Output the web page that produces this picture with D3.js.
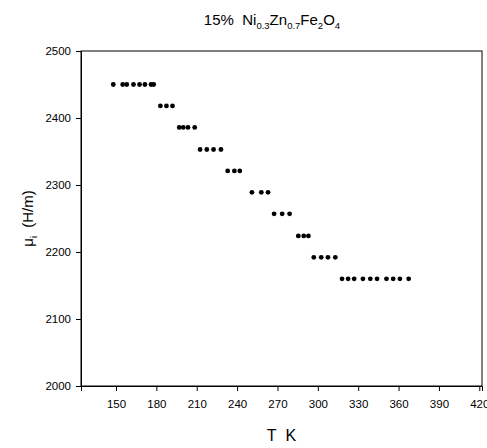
<!DOCTYPE html>
<html>
<head>
<meta charset="utf-8">
<script src="https://cdn.jsdelivr.net/npm/d3@7"></script>
<style>
  body { margin: 0; background: #fff; }
  svg { display: block; font-family: Arial, "Liberation Sans", sans-serif; }
</style>
</head>
<body>
<svg id="chart" width="487" height="448"></svg>
<script>
// Data (temperature in K, initial permeability in H/m)
const temperature = [
  148, 155, 158, 163, 167.5, 171.5, 176, 178,
  183, 187.5, 192,
  197, 200, 203.5, 208.5,
  212.5, 217.5, 222.5, 228,
  233, 238, 242,
  251, 258, 263,
  267.5, 273.5, 279,
  285.5, 289.5, 293,
  297, 302.5, 307.5, 313,
  318, 322.5, 327, 333.5, 339, 344, 351, 356, 361, 367.5
];
const permeability = [
  2450, 2450, 2450, 2450, 2450, 2450, 2450, 2450,
  2418, 2418, 2418,
  2386, 2386, 2386, 2386,
  2353, 2353, 2353, 2353,
  2321, 2321, 2321,
  2289, 2289, 2289,
  2257, 2257, 2257,
  2224, 2224, 2224,
  2192, 2192, 2192, 2192,
  2160, 2160, 2160, 2160, 2160, 2160, 2160, 2160, 2160, 2160
];
const xTicks = [150, 180, 210, 240, 270, 300, 330, 360, 390, 420];
const yTicks = [2000, 2100, 2200, 2300, 2400, 2500];

const svg = d3.select("#chart");
const margin = { left: 81, top: 51, right: 5, bottom: 62 };
const W = 487, H = 448;
const x = d3.scaleLinear().domain([124, 422]).range([margin.left, W - margin.right]);
const y = d3.scaleLinear().domain([2000, 2500]).range([H - margin.bottom, margin.top]);

// frame
svg.append("rect")
  .attr("x", x.range()[0]).attr("y", y.range()[1])
  .attr("width", x.range()[1] - x.range()[0])
  .attr("height", y.range()[0] - y.range()[1])
  .attr("fill", "none").attr("stroke", "#000").attr("stroke-width", 1);

const xAxis = svg.append("g")
  .attr("transform", `translate(0,${y.range()[0]})`)
  .call(d3.axisBottom(x).tickValues(xTicks).tickSize(5).tickPadding(9).tickFormat(d3.format("d")));
const yAxis = svg.append("g")
  .attr("transform", `translate(${x.range()[0]},0)`)
  .call(d3.axisLeft(y).tickValues(yTicks).tickSize(5).tickPadding(5).tickFormat(d3.format("d")));
[xAxis, yAxis].forEach(g => {
  g.select(".domain").attr("stroke", "#000");
  g.selectAll(".tick line").attr("stroke", "#000");
  g.selectAll(".tick text").attr("fill", "#000").style("font-size", "11.5px")
    .style("font-family", "Arial, 'Liberation Sans', sans-serif");
});

// points
svg.append("g").selectAll("circle")
  .data(temperature.map((t, i) => [t, permeability[i]]))
  .join("circle")
  .attr("cx", d => x(d[0]))
  .attr("cy", d => y(d[1]))
  .attr("r", 2.4)
  .attr("fill", "#000");

// title
const title = svg.append("text")
  .attr("x", 272).attr("y", 25)
  .attr("text-anchor", "middle")
  .style("font-size", "15px").attr("fill", "#000");
title.append("tspan").text("15%\u00A0\u00A0Ni");
title.append("tspan").attr("dy", 4).style("font-size", "9.5px").text("0.3");
title.append("tspan").attr("dy", -4).text("Zn");
title.append("tspan").attr("dy", 4).style("font-size", "9.5px").text("0.7");
title.append("tspan").attr("dy", -4).text("Fe");
title.append("tspan").attr("dy", 4).style("font-size", "9.5px").text("2");
title.append("tspan").attr("dy", -4).text("O");
title.append("tspan").attr("dy", 4).style("font-size", "9.5px").text("4");

// x axis title
svg.append("text")
  .attr("x", (x.range()[0] + x.range()[1]) / 2).attr("y", 441)
  .attr("text-anchor", "middle")
  .style("font-size", "16px").attr("fill", "#000")
  .text("T\u00A0\u00A0K");

// y axis title
const yl = svg.append("text")
  .attr("transform", `translate(33,${(y.range()[0] + y.range()[1]) / 2}) rotate(-90)`)
  .attr("text-anchor", "middle")
  .style("font-size", "15px").attr("fill", "#000");
yl.append("tspan").text("μ");
yl.append("tspan").attr("dy", 4).style("font-size", "9px").text("i");
yl.append("tspan").attr("dy", -4).text("\u00A0\u00A0(H/m)");
</script>
</body>
</html>
